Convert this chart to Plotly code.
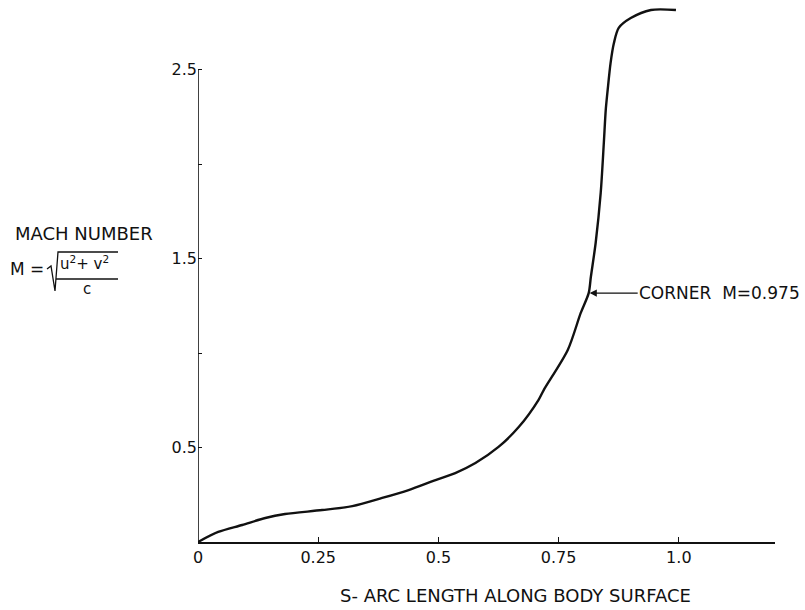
import plotly.graph_objects as go

# Data
s_vals = [0.0, 0.042, 0.092, 0.140, 0.181, 0.258, 0.321, 0.383, 0.438, 0.494,
          0.535, 0.577, 0.625, 0.667, 0.708, 0.719, 0.769, 0.796, 0.8125, 0.817,
          0.827, 0.8375, 0.844, 0.848, 0.852, 0.858, 0.865, 0.875, 0.900, 0.942, 0.994]
mach_vals = [0.0, 0.053, 0.090, 0.127, 0.148, 0.169, 0.190, 0.233, 0.275, 0.328,
             0.365, 0.418, 0.503, 0.608, 0.751, 0.804, 1.016, 1.212, 1.317, 1.402,
             1.582, 1.847, 2.111, 2.286, 2.392, 2.534, 2.640, 2.720, 2.772, 2.815, 2.815]

x_tickvals = [0, 0.25, 0.5, 0.75, 1.0]
x_ticktext = ["0", "0.25", "0.5", "0.75", "1.0"]
y_tickvals = [0.5, 1.5, 2.5]
y_ticktext = ["0.5", "1.5", "2.5"]
y_minor_ticks = [1.0, 2.0]

corner_s, corner_m = 0.8125, 1.317

W, H = 805, 610
L, R, T, B = 198, 775, 5, 542
FONT = "DejaVu Sans"
INK = "#111111"


def pp(px, py):
    return (px - L) / (R - L), (B - py) / (B - T)


fig = go.Figure()
fig.add_trace(go.Scatter(
    x=s_vals, y=mach_vals, mode="lines",
    line=dict(color=INK, width=2.4, shape="spline", smoothing=0.8),
    cliponaxis=False, showlegend=False, hoverinfo="skip"))

annotations = []


def txt(px, py, text, size=16, xanchor="center"):
    x, y = pp(px, py)
    annotations.append(dict(x=x, y=y, xref="paper", yref="paper", text=text,
                            showarrow=False, xanchor=xanchor, yanchor="middle",
                            font=dict(family=FONT, size=size, color=INK)))


txt(84, 233, "MACH NUMBER", 18)
txt(27, 269, "M =", 17)
txt(85, 263, "u<sup>2</sup>+ v<sup>2</sup>", 15)
txt(87, 289, "c", 15)
txt(515, 595, "S- ARC LENGTH ALONG BODY SURFACE", 18)

annotations.append(dict(
    x=corner_s, y=corner_m, xref="x", yref="y", text="CORNER  M=0.975",
    showarrow=True, arrowhead=2, arrowsize=1.1, arrowwidth=1.3, arrowcolor=INK,
    ax=131, ay=0, standoff=1,
    font=dict(family=FONT, size=17, color=INK)))

shapes = []
# radical sign and fraction bar
pts = [(47, 269), (51, 266), (55, 291), (58, 252), (118, 252)]
path = "M " + " L ".join(f"{pp(a, b)[0]},{pp(a, b)[1]}" for a, b in pts)
shapes.append(dict(type="path", path=path, xref="paper", yref="paper",
                   line=dict(color=INK, width=1.3)))
x0, y0 = pp(56, 279)
x1, y1 = pp(118, 279)
shapes.append(dict(type="line", x0=x0, y0=y0, x1=x1, y1=y1, xref="paper", yref="paper",
                   line=dict(color=INK, width=1.3)))
# vertical axis line up to the 2.5 tick
shapes.append(dict(type="line", x0=0, y0=0, x1=0, y1=2.5, xref="x", yref="y",
                   line=dict(color=INK, width=1.6)))

fig.update_layout(
    width=W, height=H, template="none",
    paper_bgcolor="white", plot_bgcolor="white",
    margin=dict(l=L, r=W - R, t=T, b=H - B, autoexpand=False),
    annotations=annotations, shapes=shapes,
    xaxis=dict(range=[0, 1.2], tickvals=x_tickvals, ticktext=x_ticktext,
               ticks="inside", ticklen=5, tickwidth=1, tickcolor=INK,
               showline=True, linecolor=INK, linewidth=1.6,
               showgrid=False, zeroline=False,
               tickfont=dict(family=FONT, size=16, color=INK)),
    yaxis=dict(range=[0, (B - T) / 189.0], tickvals=y_tickvals, ticktext=y_ticktext,
               ticks="inside", ticklen=4, tickwidth=1, tickcolor=INK,
               minor=dict(tickvals=y_minor_ticks, ticks="inside", ticklen=4,
                          tickwidth=1, tickcolor=INK, showgrid=False),
               showline=False, showgrid=False, zeroline=False,
               tickfont=dict(family=FONT, size=16, color=INK)),
)

fig.write_html("out.html")
